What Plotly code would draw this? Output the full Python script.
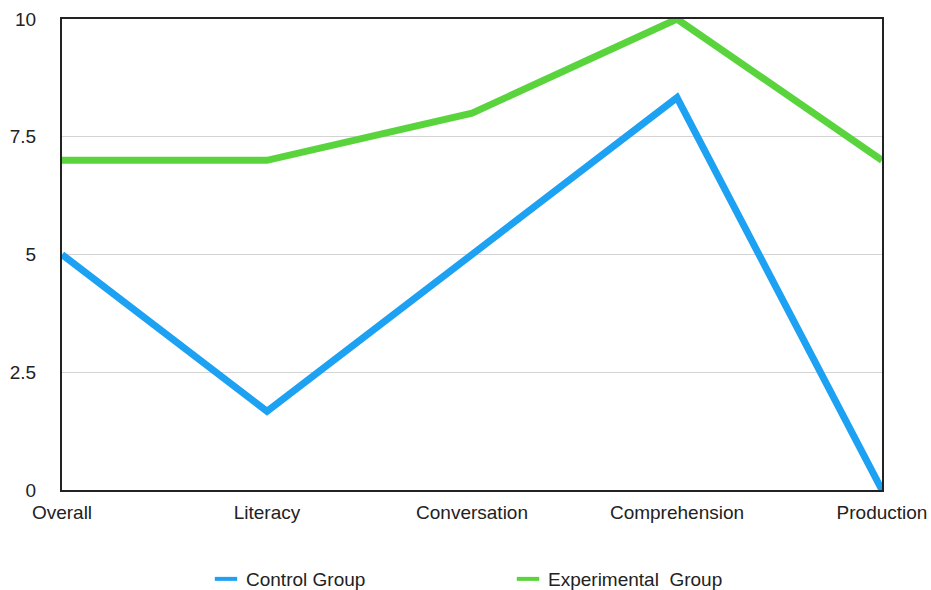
import plotly.graph_objects as go

categories = ["Overall", "Literacy", "Conversation", "Comprehension", "Production"]
control = [5, 1.67, 5, 8.33, 0]
experimental = [7, 7, 8, 10, 7]
series_names = ["Control Group", "Experimental  Group"]
colors = ["#1DA1F2", "#5AD43C"]
y_ticks = [0, 2.5, 5, 7.5, 10]
y_labels = ["0", "2.5", "5", "7.5", "10"]

fig = go.Figure()
for vals, name, col in [(control, series_names[0], colors[0]), (experimental, series_names[1], colors[1])]:
    fig.add_trace(go.Scatter(x=categories, y=vals, mode="lines", name=name,
                             line=dict(color=col, width=7), showlegend=False, cliponaxis=False))
for name, col in zip(series_names, colors):
    fig.add_trace(go.Scatter(x=[None], y=[None], mode="markers", name=name,
                             marker=dict(symbol="line-ew", size=16, line=dict(color=col, width=4))))

fig.update_layout(
    width=931, height=590,
    margin=dict(l=62, r=49, t=19, b=100, autoexpand=False),
    plot_bgcolor="white", paper_bgcolor="white",
    font=dict(family="Liberation Sans, Arial, sans-serif", size=19, color="#222"),
    xaxis=dict(type="category", range=[0, 4], showgrid=False, showline=True, linecolor="#222",
               linewidth=2, mirror=True, ticks="", ticklabelstandoff=4, zeroline=False,
               automargin=False),
    yaxis=dict(range=[0, 10], tickvals=y_ticks, ticktext=y_labels, showgrid=True,
               gridcolor="#d4d4d4", gridwidth=1, showline=True, linecolor="#222", linewidth=2,
               mirror=True, ticks="", ticklabelstandoff=20, zeroline=False, automargin=False),
    legend=dict(orientation="h", x=(206 - 62) / 820, xanchor="left", y=-0.189, yanchor="middle",
                entrywidth=257, entrywidthmode="pixels", font=dict(size=19)),
)
fig.write_html("out.html")
